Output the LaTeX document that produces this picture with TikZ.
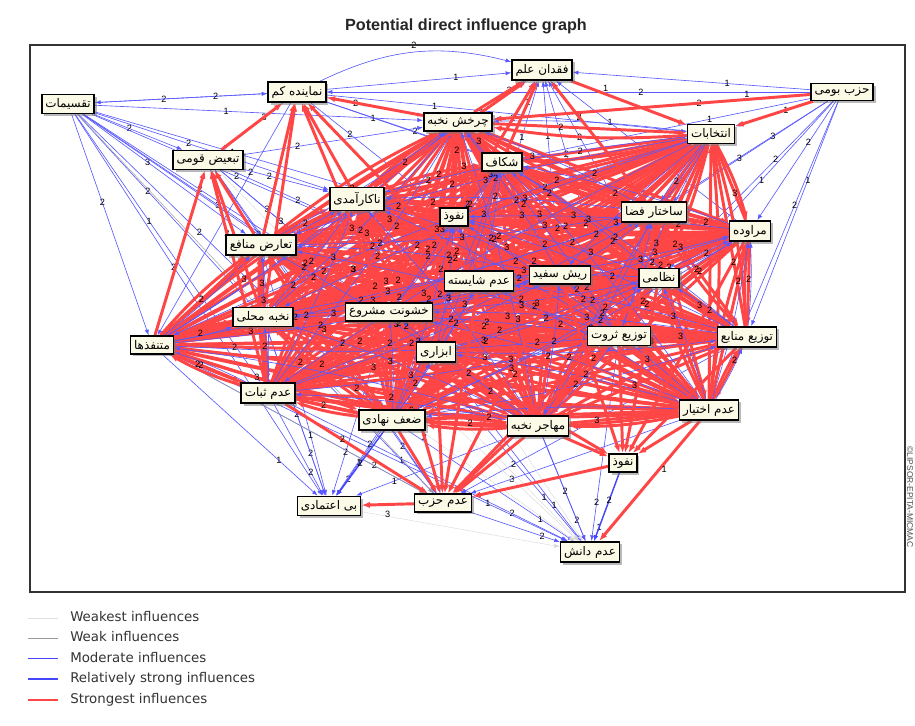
\documentclass[tikz,border=0pt]{standalone}
\usepackage{fontspec}
\setmainfont{Liberation Sans}
\newfontfamily\farsi[Script=Arabic]{DejaVu Sans}
\newfontfamily\legendfont{DejaVu Sans}
\TeXXeTstate=1
\usetikzlibrary{arrows.meta,positioning,shadows}

\definecolor{boxfill}{RGB}{250,250,230}
\definecolor{infred}{RGB}{255,70,70}
\definecolor{infblue}{RGB}{70,70,255}
\newcommand{\fatxt}[1]{{\farsi\beginR#1\endR}}
\pgfdeclarelayer{edges}
\pgfsetlayers{edges,main}

\begin{document}
\begin{tikzpicture}[x=0.025cm, y=-0.025cm, >={Latex[length=4pt,width=3pt]}]
    \tikzstyle{factor}=[draw=black, line width=1.1pt, fill=boxfill, inner xsep=2.5pt, inner ysep=3pt, font=\fontsize{8.5}{9}\selectfont, drop shadow={shadow xshift=1.8pt, shadow yshift=-1.8pt, fill=black!55}]
    \tikzstyle{weakest}=[draw=gray!30, line width=0.3pt, ->]
    \tikzstyle{weak}=[draw=gray!75, line width=0.35pt, ->]
    \tikzstyle{moderate}=[draw=infblue!90, line width=0.45pt, ->]
    \tikzstyle{rstrong}=[draw=infblue, line width=1pt, ->]
    \tikzstyle{strongest}=[draw=infred, line width=2.1pt, -{Latex[length=6pt,width=4.5pt]}]
    \tikzstyle{val}=[font=\fontsize{6.5}{7}\selectfont, inner sep=0.5pt, text=black]
    \tikzstyle{legtxt}=[font=\legendfont\fontsize{9.5}{10}\selectfont, text=black!80, inner sep=0pt, text height=7pt, text depth=2pt]

    \useasboundingbox (0,0) rectangle (915,725);
    \node[font=\bfseries\fontsize{11.5}{13}\selectfont, text=black!85] (title) at (466,26) {Potential direct influence graph};
    \draw[black!80, line width=0.8pt] (30,45) rectangle (905,592);
    \node[rotate=-90, font=\fontsize{6}{7}\selectfont, text=black!70] (credit) at (910,497) {©LIPSOR-EPITA-MICMAC};

    % factors
    \node[factor] (taqsimat) at (68,104) {\fatxt{تقسیمات}};
    \node[factor] (namayande) at (297,92) {\fatxt{نماینده کم}};
    \node[factor] (feqdan) at (542,70) {\fatxt{فقدان علم}};
    \node[factor] (hezb) at (842,92) {\fatxt{حزب بومی}};
    \node[factor] (charkhesh) at (458,122) {\fatxt{چرخش نخبه}};
    \node[factor] (tabiz) at (208,160) {\fatxt{تبعیض قومی}};
    \node[factor] (shekaf) at (502,162) {\fatxt{شکاف}};
    \node[factor] (entekhabat) at (711,134) {\fatxt{انتخابات}};
    \node[factor] (nakaramadi) at (357,199) {\fatxt{ناکارآمدی}};
    \node[factor] (nofuz1) at (454,217) {\fatxt{نفوذ}};
    \node[factor] (sakhtar) at (654,212) {\fatxt{ساختار فضا}};
    \node[factor] (moravede) at (750,231) {\fatxt{مراوده}};
    \node[factor] (taaroz) at (261,245) {\fatxt{تعارض منافع}};
    \node[factor] (shayeste) at (479,281) {\fatxt{عدم شایسته}};
    \node[factor] (rishsefid) at (560,275) {\fatxt{ریش سفید}};
    \node[factor] (nezami) at (659,278) {\fatxt{نظامی}};
    \node[factor] (nokhbe) at (263,317) {\fatxt{نخبه محلی}};
    \node[factor] (khoshunat) at (389,312) {\fatxt{خشونت مشروع}};
    \node[factor] (servat) at (619,336) {\fatxt{توزیع ثروت}};
    \node[factor] (manabe) at (747,337) {\fatxt{توزیع منابع}};
    \node[factor] (motanafez) at (152,345) {\fatxt{متنفذها}};
    \node[factor] (abzari) at (436,352) {\fatxt{ابزاری}};
    \node[factor] (sobat) at (268,393) {\fatxt{عدم ثبات}};
    \node[factor] (zaf) at (392,420) {\fatxt{ضعف نهادی}};
    \node[factor] (mohajer) at (538,426) {\fatxt{مهاجر نخبه}};
    \node[factor] (ekhtiar) at (709,410) {\fatxt{عدم اختیار}};
    \node[factor] (nofuz2) at (623,463) {\fatxt{نفوذ}};
    \node[factor] (etemad) at (329,506) {\fatxt{بی اعتمادی}};
    \node[factor] (hezbnot) at (443,503) {\fatxt{عدم حزب}};
    \node[factor] (danesh) at (590,552) {\fatxt{عدم دانش}};

    \begin{pgfonlayer}{edges}
    % fans of the outer factors
    \foreach \t/\v in {namayande/2, tabiz/2, nakaramadi/2, taaroz/3, nokhbe/2, motanafez/2, sobat/1, zaf/2, charkhesh/1, khoshunat/2, shayeste/2, nofuz1/1, etemad/2, abzari/3, mohajer/2}
        \draw[moderate] (taqsimat) -- node[val,pos=0.4]{\v} (\t);
    \foreach \t/\v in {feqdan/1, charkhesh/2, shekaf/1, entekhabat/1, sakhtar/3, moravede/2, manabe/1, nezami/2, rishsefid/3, ekhtiar/2, servat/1, namayande/2}
        \draw[moderate] (hezb) -- node[val,pos=0.35]{\v} (\t);
    \foreach \s/\v in {namayande/1, charkhesh/2, shekaf/1, nakaramadi/2, sakhtar/2, rishsefid/1, nofuz1/2, shayeste/1, nezami/2, moravede/1, servat/2}
        \draw[moderate] (\s) -- node[val,pos=0.7]{\v} (feqdan);
    \foreach \t/\v in {taqsimat/2, charkhesh/2, shekaf/1, nofuz1/2, entekhabat/1, sakhtar/2, tabiz/3, motanafez/2}
        \draw[moderate] (namayande) -- node[val,pos=0.3]{\v} (\t);
    \foreach \t/\v in {nakaramadi/2, khoshunat/3, charkhesh/2, shayeste/2, abzari/3, zaf/2, sobat/2}
        \draw[moderate] (tabiz) -- node[val,pos=0.3]{\v} (\t);
    \foreach \s/\v in {sobat/2, zaf/2, motanafez/1, nokhbe/2, taaroz/1, khoshunat/2, abzari/1, mohajer/1, tabiz/2, shayeste/2}
        \draw[moderate] (\s) -- node[val,pos=0.75]{\v} (etemad);
    \foreach \s/\v in {taaroz/2, nokhbe/1, motanafez/2, tabiz/1, manabe/2, ekhtiar/3, nakaramadi/2}
        \draw[moderate] (\s) -- node[val,pos=0.8]{\v} (hezbnot);
    \foreach \s/\v in {mohajer/2, zaf/1, sobat/2, abzari/1, nofuz2/1, hezbnot/2, khoshunat/1, servat/2, motanafez/1, shayeste/2}
        \draw[moderate] (\s) -- node[val,pos=0.8]{\v} (danesh);
    \foreach \s in {nokhbe, taaroz, tabiz, nakaramadi, etemad}
        \draw[weakest] (\s) -- (danesh);
    \foreach \s in {sobat, motanafez, taqsimat}
        \draw[weak] (\s) -- (hezbnot);

    % dense core of strongest influences
    \def\core{charkhesh,shekaf,nakaramadi,nofuz1,sakhtar,moravede,taaroz,shayeste,rishsefid,nezami,nokhbe,khoshunat,servat,manabe,motanafez,abzari,sobat,zaf,mohajer,ekhtiar,entekhabat}
    \foreach \a [count=\i] in \core {
        \foreach \b [count=\j] in \core {
            \ifnum\j>\i
                \draw[strongest] (\a) -- (\b);
                \draw[strongest] (\b) to[bend left=6] (\a);
            \fi
        }
    }
    \foreach \a [count=\i] in \core {
        \foreach \b [count=\j] in \core {
            \pgfmathtruncatemacro\k{mod(\i+\j,2)}
            \ifnum\j>\i \ifnum\k=0
                \draw[moderate] (\b) to[bend right=4] (\a);
            \fi\fi
        }
    }

    % strongest links to the outer factors
    \foreach \s in {charkhesh, shekaf, nofuz1, sakhtar, nakaramadi}
        \draw[strongest] (\s) -- (feqdan);
    \foreach \s in {nakaramadi, taaroz, tabiz, nokhbe, charkhesh, khoshunat, shayeste}
        \draw[strongest] (\s) -- (namayande);
    \foreach \s in {motanafez, taaroz, nokhbe, sobat}
        \draw[strongest] (\s) -- (tabiz);
    \foreach \s in {zaf, mohajer, servat, khoshunat, abzari, nofuz2, rishsefid, shayeste, nezami}
        \draw[strongest] (\s) -- (hezbnot);
    \foreach \s in {mohajer, servat, ekhtiar, moravede, rishsefid, nezami, manabe, abzari}
        \draw[strongest] (\s) -- (nofuz2);

    \path[->]
    (namayande) edge[moderate, bend left=20] node[val, above=2pt] {2} (feqdan)
    (hezb)      edge[strongest]              node[val, above, pos=0.2] {1} (charkhesh)
    (hezb)      edge[strongest]              (entekhabat)
    (feqdan)    edge[strongest]              node[val, above, pos=0.3] {1} (entekhabat)
    (sobat)     edge[strongest]              node[val, pos=0.4] {2} (hezbnot)
    (motanafez) edge[strongest]              node[val, pos=0.4] {2} (sobat)
    (ekhtiar)   edge[strongest]              node[val, right, pos=0.4] {1} (danesh)
    (hezbnot)   edge[strongest]              node[val, below=3pt] {3} (etemad)
    (zaf)       edge[rstrong]                node[val, pos=0.5] {2} (etemad)
    (nofuz2)    edge[rstrong]                node[val, pos=0.4] {2} (danesh)
    ;

    % intensity values on the core links, kept above the lines
    \foreach \a [count=\i] in \core {
        \foreach \b [count=\j] in \core {
            \ifnum\j>\i
                \pgfmathtruncatemacro\w{ifthenelse(mod(\i+\j,3)==0,3,2)}
                \pgfmathsetmacro\p{0.25+0.1*mod(\j,4)}
                \path (\a) -- node[val,pos=\p]{\w} (\b);
            \fi
        }
    }
    \end{pgfonlayer}

    % legend
    \node[legtxt, anchor=west] (leg1) at (70,618) {Weakest influences};
    \node[legtxt, below=0.18cm of leg1.south west, anchor=north west] (leg2) {Weak influences};
    \node[legtxt, below=0.18cm of leg2.south west, anchor=north west] (leg3) {Moderate influences};
    \node[legtxt, below=0.18cm of leg3.south west, anchor=north west] (leg4) {Relatively strong influences};
    \node[legtxt, below=0.18cm of leg4.south west, anchor=north west] (leg5) {Strongest influences};
    \draw[gray!25, line width=0.6pt] ([xshift=-30pt]leg1.west) -- ([xshift=-8.5pt]leg1.west);
    \draw[gray!80, line width=0.6pt] ([xshift=-30pt]leg2.west) -- ([xshift=-8.5pt]leg2.west);
    \draw[infblue, line width=0.6pt] ([xshift=-30pt]leg3.west) -- ([xshift=-8.5pt]leg3.west);
    \draw[infblue, line width=1.4pt] ([xshift=-30pt]leg4.west) -- ([xshift=-8.5pt]leg4.west);
    \draw[infred, line width=1.6pt]  ([xshift=-30pt]leg5.west) -- ([xshift=-8.5pt]leg5.west);
\end{tikzpicture}
\end{document}
